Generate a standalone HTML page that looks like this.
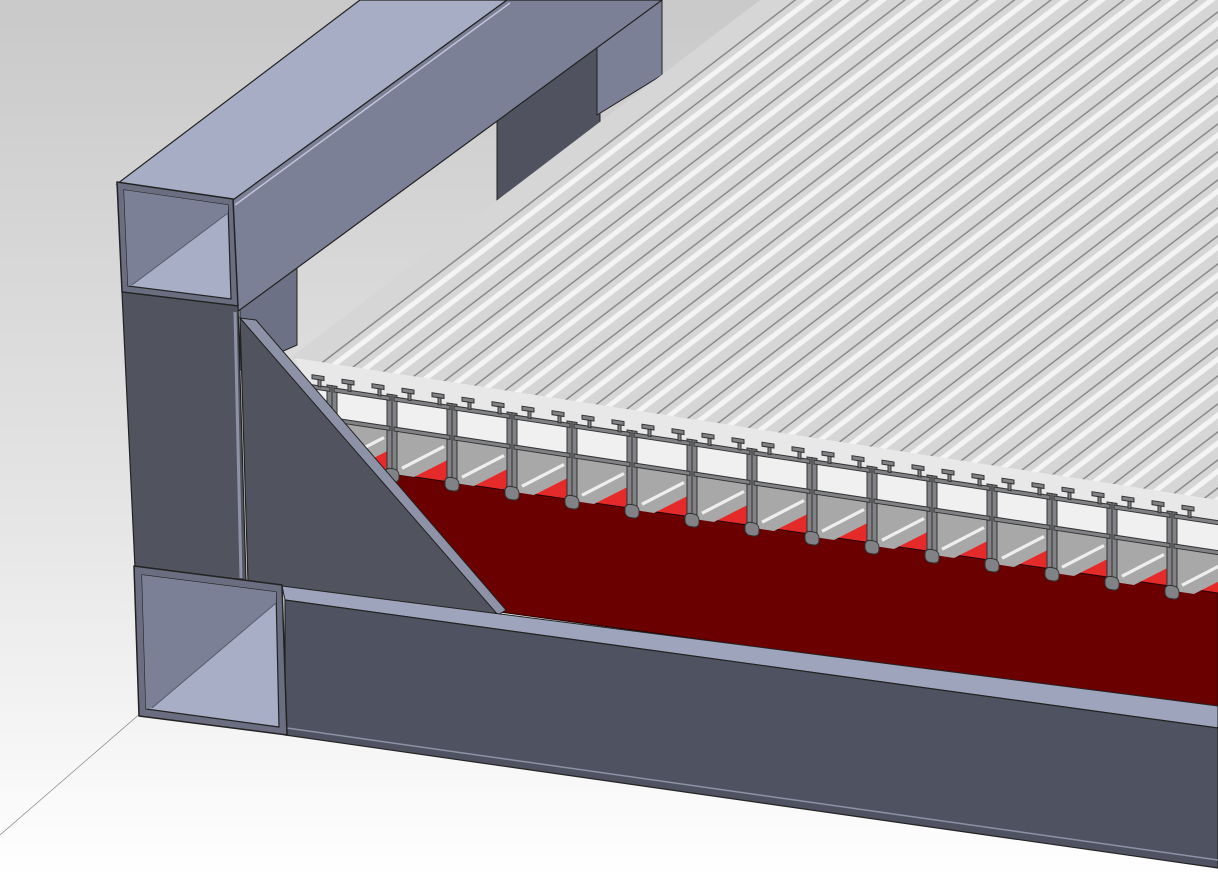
<!DOCTYPE html>
<html><head><style>html,body{margin:0;padding:0;width:1218px;height:878px;overflow:hidden}</style></head>
<body>
<svg width="1218" height="878" viewBox="0 0 1218 878" xmlns="http://www.w3.org/2000/svg">
<defs>
<linearGradient id="bg" x1="0" y1="0" x2="0" y2="1">
<stop offset="0" stop-color="#c9c9c9"/><stop offset="0.6" stop-color="#e6e6e6"/><stop offset="1" stop-color="#ffffff"/>
</linearGradient>
<clipPath id="slatclip"><polygon points="290,358 760,0 1218,0 1218,505"/></clipPath>
<g id="p" stroke="#333" stroke-width="1">
  <rect x="0" y="0" width="58" height="30" fill="#f0f0f0" stroke="none"/>
  <polygon points="0,30 58,30 58,50 20,75 0,75" fill="#a8a8a8" stroke="none"/>
  <line x1="8" y1="68" x2="50" y2="40" stroke="#eee" stroke-width="3"/>
  <g fill="#808285">
  <rect x="-2" y="-4" width="5" height="80"/>
  <rect x="53" y="-4" width="5" height="80"/>
  <rect x="0" y="-2" width="56" height="4"/>
  <rect x="0" y="28" width="56" height="4"/>
  <rect x="-9" y="70" width="14" height="13" rx="5"/>
  <rect x="51" y="70" width="14" height="13" rx="5"/>
  <rect x="-16" y="-10" width="3" height="9"/>
  <rect x="-22" y="-12" width="12" height="4"/>
  <rect x="14" y="-10" width="3" height="9"/>
  <rect x="8" y="-12" width="12" height="4"/>
  </g>
</g>
</defs>
<rect width="1218" height="878" fill="url(#bg)"/>
<line x1="0" y1="835" x2="142" y2="712" stroke="#888" stroke-width="0.7"/>

<!-- back posts -->
<polygon points="497,117 600,43 600,140 497,200" fill="#50535f" stroke="#222" stroke-width="1"/>
<polygon points="597,45 662,0 662,75 597,115" fill="#7b8096" stroke="#222" stroke-width="1"/>
<polygon points="240,300 297,268 297,345 240,370" fill="#6d7185" stroke="#222"/>

<!-- slat top surface -->
<g clip-path="url(#slatclip)">
<rect x="280" y="0" width="940" height="520" fill="#d6d6d6"/>
<g stroke="#8a8a8a" stroke-width="1.5" fill="none">
<path d="M310,372 l600,-460 M340,377 l600,-460 M370,382 l600,-460 M400,387 l600,-460 M430,392 l600,-460 M460,397 l600,-460 M490,402 l600,-460 M520,407 l600,-460 M550,412 l600,-460 M580,417 l600,-460 M610,422 l600,-460 M640,427 l600,-460 M670,432 l600,-460 M700,437 l600,-460 M730,442 l600,-460 M760,447 l600,-460 M790,452 l600,-460 M820,457 l600,-460 M850,462 l600,-460 M880,467 l600,-460 M910,472 l600,-460 M940,477 l600,-460 M970,482 l600,-460 M1000,487 l600,-460 M1030,492 l600,-460 M1060,497 l600,-460 M1090,502 l600,-460 M1120,507 l600,-460 M1150,512 l600,-460 M1180,517 l600,-460"/>
</g>
<g stroke="#f4f4f4" stroke-width="5" fill="none">
<path d="M322,374 l600,-460 M352,379 l600,-460 M382,384 l600,-460 M412,389 l600,-460 M442,394 l600,-460 M472,399 l600,-460 M502,404 l600,-460 M532,409 l600,-460 M562,414 l600,-460 M592,419 l600,-460 M622,424 l600,-460 M652,429 l600,-460 M682,434 l600,-460 M712,439 l600,-460 M742,444 l600,-460 M772,449 l600,-460 M802,454 l600,-460 M832,459 l600,-460 M862,464 l600,-460 M892,469 l600,-460 M922,474 l600,-460 M952,479 l600,-460 M982,484 l600,-460 M1012,489 l600,-460 M1042,494 l600,-460 M1072,499 l600,-460 M1102,504 l600,-460 M1132,509 l600,-460 M1162,514 l600,-460 M1192,519 l600,-460"/>
</g>
</g>

<!-- band behind profiles -->
<polygon points="295,358 1218,500 1218,560 330,430" fill="#e8e8e8"/>
<!-- bright red strip -->
<polygon points="340,425 1218,550 1218,595 380,475" fill="#e52a2a"/>
<!-- dark red plate -->
<polygon points="380,472 1218,593 1218,710 500,612" fill="#6a0000" stroke="#200" stroke-width="1"/>

<!-- grating profiles -->
<g>
<use href="#p" transform="translate(274,381) skewY(8.53)"/>
<use href="#p" transform="translate(334,390) skewY(8.53)"/>
<use href="#p" transform="translate(394,399) skewY(8.53)"/>
<use href="#p" transform="translate(454,408) skewY(8.53)"/>
<use href="#p" transform="translate(514,417) skewY(8.53)"/>
<use href="#p" transform="translate(574,426) skewY(8.53)"/>
<use href="#p" transform="translate(634,435) skewY(8.53)"/>
<use href="#p" transform="translate(694,444) skewY(8.53)"/>
<use href="#p" transform="translate(754,453) skewY(8.53)"/>
<use href="#p" transform="translate(814,462) skewY(8.53)"/>
<use href="#p" transform="translate(874,471) skewY(8.53)"/>
<use href="#p" transform="translate(934,480) skewY(8.53)"/>
<use href="#p" transform="translate(994,489) skewY(8.53)"/>
<use href="#p" transform="translate(1054,498) skewY(8.53)"/>
<use href="#p" transform="translate(1114,507) skewY(8.53)"/>
<use href="#p" transform="translate(1174,516) skewY(8.53)"/>
</g>

<!-- top tube -->
<polygon points="117,184 360,0 507,0 233,200" fill="#a7adc4" stroke="#222" stroke-width="1.2"/>
<polygon points="233,200 507,0 662,0 237,312" fill="#7b8096" stroke="#222" stroke-width="1.2"/>
<line x1="235" y1="205" x2="510" y2="3" stroke="#c0c5d8" stroke-width="1.5"/>
<!-- top tube end -->
<polygon points="117,182 233,199 238,306 122,292" fill="#6a6e80" stroke="#222" stroke-width="1.5" stroke-linejoin="round"/>
<polygon points="124,190 228,205 231,299 128,286" fill="#a8aec6" stroke="#222" stroke-width="1.2"/>
<polygon points="124,190 228,205 228,213 132,285 128,286" fill="#7b8096"/>
<line x1="132" y1="285" x2="228" y2="213" stroke="#555a6c" stroke-width="1"/>

<!-- vertical post -->
<polygon points="122,292 238,306 246,580 135,568" fill="#51545f" stroke="#222" stroke-width="1.2"/>
<line x1="235" y1="312" x2="241" y2="578" stroke="#8d92a6" stroke-width="3"/>
<!-- gusset -->
<polygon points="240,318 500,612 485,615 248,582" fill="#51545f" stroke="#222" stroke-width="1.2"/>
<polygon points="240,318 256,320 506,610 498,615" fill="#8d92a6" stroke="#222" stroke-width="1"/>

<!-- bottom beam -->
<polygon points="282,586 1218,706 1218,728 285,600" fill="#9ea4bb" stroke="#222" stroke-width="1"/>
<polygon points="285,600 1218,728 1218,868 285,735" fill="#4f5260" stroke="#222" stroke-width="1.2"/>
<line x1="287" y1="728" x2="1218" y2="860" stroke="#8d92a6" stroke-width="1.5"/>
<!-- bottom tube end -->
<polygon points="134,566 282,585 287,735 139,716" fill="#6a6e80" stroke="#222" stroke-width="1.5" stroke-linejoin="round"/>
<polygon points="142,575 276,592 279,727 146,709" fill="#a8aec6" stroke="#222" stroke-width="1.2"/>
<polygon points="142,575 276,592 276,603 152,708 146,709" fill="#7b8096"/>
<line x1="152" y1="708" x2="276" y2="603" stroke="#555a6c" stroke-width="1"/>
</svg>
</body></html>
